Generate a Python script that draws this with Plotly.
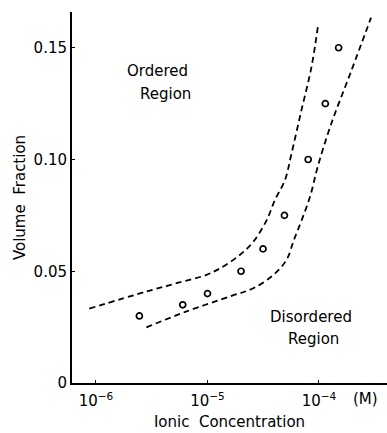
import plotly.graph_objects as go

# Data points (ionic concentration in M, volume fraction)
conc_pts = [2.45e-6, 6.0e-6, 1.0e-5, 2.0e-5, 3.15e-5, 4.9e-5, 8.0e-5, 1.14e-4, 1.5e-4]
vf_pts = [0.030, 0.035, 0.040, 0.050, 0.060, 0.075, 0.100, 0.125, 0.150]

# Upper boundary (dashed)
upper_logc = [-6.06, -5.556, -5.288, -5.02, -4.888, -4.71, -4.589, -4.469, -4.395, -4.305,
              -4.247, -4.158, -4.068, -4.009]
upper_vf = [0.0333, 0.0408, 0.0445, 0.0482, 0.0513, 0.0573, 0.0632, 0.0729, 0.0819, 0.0908,
            0.1025, 0.1219, 0.1412, 0.1598]

# Lower boundary (dashed)
lower_logc = [-5.548, -5.2, -4.783, -4.589, -4.41, -4.29, -4.225, -4.155, -4.08, -4.01,
              -3.89, -3.71, -3.533]
lower_vf = [0.0249, 0.0318, 0.0390, 0.0424, 0.0483, 0.0552, 0.0640, 0.0729, 0.0834, 0.0970,
            0.116, 0.1397, 0.1635]

x_tickvals = [1e-6, 1e-5, 1e-4]
x_ticktext = ["10<sup>−6</sup>", "10<sup>−5</sup>", "10<sup>−4</sup>"]
y_tickvals = [0, 0.05, 0.10, 0.15]
y_ticktext = ["0", "0.05", "0.10", "0.15"]

FONT = "DejaVu Sans"
W, H = 387, 433
L, R, T, B = 72, 0, 12, 50
PW, PH = W - L - R, H - T - B


def px(x):
    return (x - L) / PW


def py(y):
    return (H - B - y) / PH


fig = go.Figure()
fig.add_trace(go.Scatter(x=[10 ** v for v in upper_logc], y=upper_vf, mode="lines",
                         line=dict(color="black", width=1.8, dash="6px,4px", shape="spline"),
                         showlegend=False))
fig.add_trace(go.Scatter(x=[10 ** v for v in lower_logc], y=lower_vf, mode="lines",
                         line=dict(color="black", width=1.8, dash="6px,4px", shape="spline"),
                         showlegend=False))
fig.add_trace(go.Scatter(x=conc_pts, y=vf_pts, mode="markers",
                         marker=dict(symbol="circle-open", size=6, color="black",
                                     line=dict(width=1.7, color="black")),
                         showlegend=False))

labels = [("Ordered", 157, 71), ("Region", 165, 94),
          ("Disordered", 311, 317), ("Region", 313, 339), ("(M)", 365, 399)]
for txt, lx, ly in labels:
    fig.add_annotation(x=px(lx), y=py(ly), xref="paper", yref="paper", showarrow=False,
                       xanchor="center", yanchor="middle", text=txt,
                       font=dict(family=FONT, size=15, color="black"))

fig.update_layout(
    width=W, height=H,
    margin=dict(l=L, r=R, t=T, b=B),
    plot_bgcolor="white", paper_bgcolor="white",
    font=dict(family=FONT, size=15, color="black"),
    xaxis=dict(type="log", range=[-6.215, -3.39], tickvals=x_tickvals, ticktext=x_ticktext,
               showline=True, linecolor="black", linewidth=2, showgrid=False, zeroline=False,
               ticks="inside", ticklen=3, tickcolor="black", ticklabelstandoff=3,
               title=dict(text="Ionic  Concentration", font=dict(family=FONT, size=15), standoff=7),
               tickfont=dict(family=FONT, size=15)),
    yaxis=dict(range=[0, 0.166], tickvals=y_tickvals, ticktext=y_ticktext,
               showline=True, linecolor="black", linewidth=2, showgrid=False, zeroline=False,
               ticks="inside", ticklen=3, tickcolor="black",
               title=dict(text="Volume  Fraction", font=dict(family=FONT, size=15), standoff=4),
               tickfont=dict(family=FONT, size=15)),
)

fig.write_html("out.html")
